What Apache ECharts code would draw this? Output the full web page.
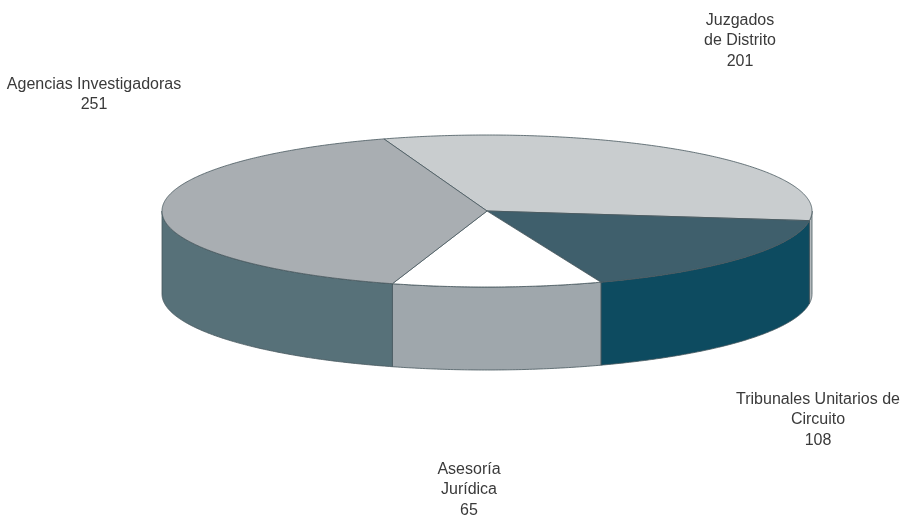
<!DOCTYPE html>
<html>
<head>
<meta charset="utf-8">
<script src="https://cdn.jsdelivr.net/npm/echarts@6/dist/echarts.min.js"></script>
<style>
html,body{margin:0;padding:0;background:#fff;}
#chart{width:900px;height:515px;}
</style>
</head>
<body>
<div id="chart"></div>
<script>
// ---- data ----
const categories = ['Juzgados de Distrito', 'Tribunales Unitarios de Circuito', 'Asesoría Jurídica', 'Agencias Investigadoras'];
const values = [201, 108, 65, 251];
const labelNames = [['Juzgados', 'de Distrito'], ['Tribunales Unitarios de', 'Circuito'], ['Asesoría', 'Jurídica'], ['Agencias Investigadoras']];

// ---- styles ----
const topColors = ['#c9cdcf', '#3f5f6c', '#ffffff', '#a9aeb2'];
const sideColors = ['#b4babd', '#0d4b60', '#9fa7ac', '#577179'];
const edgeColor = '#48585e';
const FONT = "'Liberation Sans Narrow', 'Arial Narrow', sans-serif";

// ---- layout ----
const CX = 487, CY = 211, RX = 325, RY = 76, DEPTH = 83;
const START_DEG = 108.5;
const labelPos = [[740, 19], [818, 398], [469, 468], [94, 83]];
const LINE_H = 20.5;

const total = values.reduce((a, b) => a + b, 0);
const slices = [];
let acc = START_DEG;
values.forEach((v, i) => {
  const sweep = v / total * 360;
  slices.push({ s: acc, e: acc - sweep });
  acc -= sweep;
});
const rad = d => d * Math.PI / 180;
const pt = (deg, dy) => [CX + RX * Math.cos(rad(deg)), CY - RY * Math.sin(rad(deg)) + (dy || 0)];

function arcPoints(from, to, dy) {
  const pts = [];
  const n = Math.max(2, Math.ceil(Math.abs(from - to) / 0.5));
  for (let k = 0; k <= n; k++) pts.push(pt(from + (to - from) * k / n, dy));
  return pts;
}

function renderSide(params, api) {
  const i = api.value(0);
  const sl = slices[i];
  const children = [];
  for (let k = -2; k <= 1; k++) {
    const lo = -180 + 360 * k, hi = 0 + 360 * k;
    const a = Math.max(sl.e, lo), b = Math.min(sl.s, hi);
    if (b - a > 0.01) {
      const top = arcPoints(b, a, 0);
      const bot = arcPoints(a, b, DEPTH);
      children.push({
        type: 'polygon',
        shape: { points: top.concat(bot) },
        style: { fill: sideColors[i], stroke: edgeColor, lineWidth: 0.8 }
      });
    }
  }
  return { type: 'group', children };
}

function renderTop(params, api) {
  const i = api.value(0);
  const sl = slices[i];
  const pts = [[CX, CY]].concat(arcPoints(sl.s, sl.e, 0));
  return {
    type: 'polygon',
    shape: { points: pts },
    style: { fill: topColors[i], stroke: edgeColor, lineWidth: 0.8 }
  };
}

const graphics = labelNames.map((lines, i) => ({
  type: 'text',
  x: labelPos[i][0],
  y: labelPos[i][1] - 9,
  style: {
    text: lines.concat([String(values[i])]).join('\n'),
    font: '16px ' + FONT,
    fill: '#3a3a3a',
    align: 'center',
    verticalAlign: 'top',
    lineHeight: LINE_H
  }
}));

const chart = echarts.init(document.getElementById('chart'));
chart.setOption({
  backgroundColor: '#ffffff',
  animation: false,
  series: [
    {
      type: 'custom', name: 'sides', coordinateSystem: 'none', z: 1,
      data: values.map((v, i) => [i, v, categories[i]]),
      renderItem: renderSide, silent: true
    },
    {
      type: 'custom', name: 'tops', coordinateSystem: 'none', z: 2,
      data: values.map((v, i) => [i, v, categories[i]]),
      renderItem: renderTop, silent: true
    }
  ],
  graphic: graphics
});
</script>
</body>
</html>
